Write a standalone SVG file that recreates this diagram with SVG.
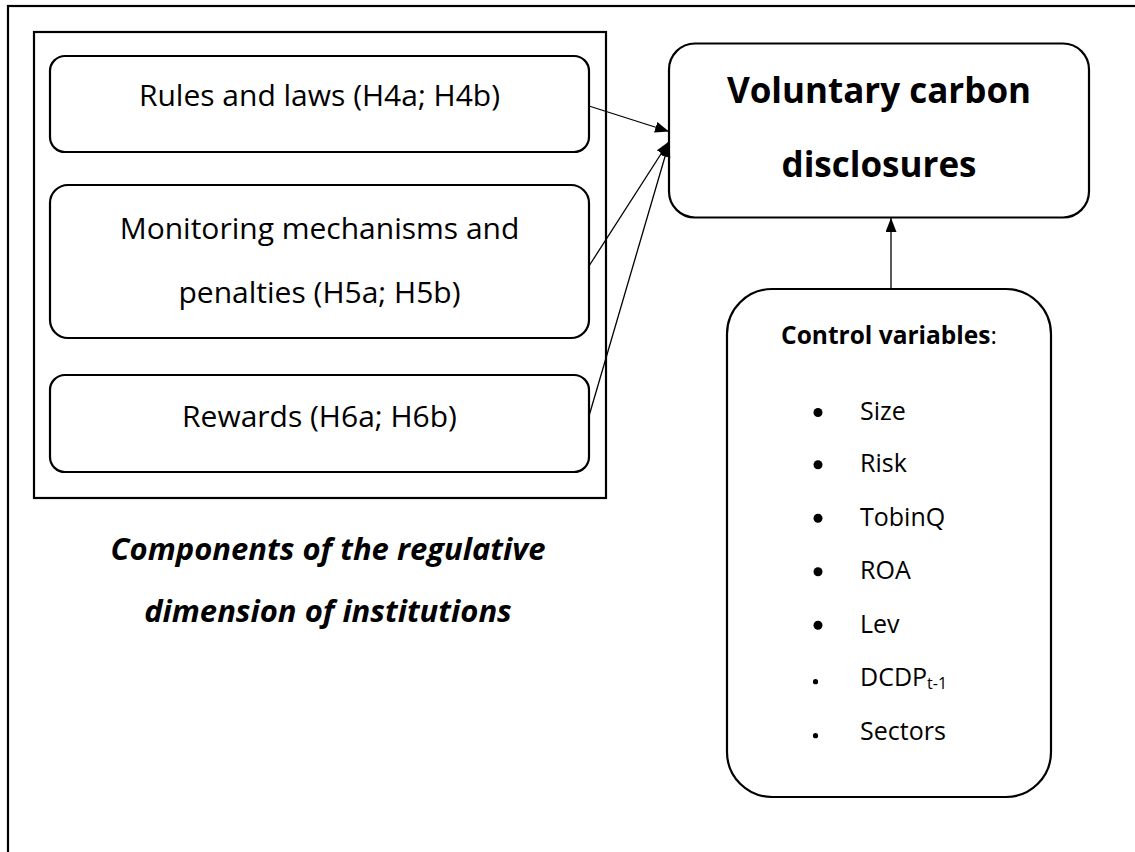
<svg xmlns="http://www.w3.org/2000/svg" width="1135" height="852" viewBox="0 0 1135 852">
<style>
.frame{fill:none;stroke:#000;stroke-width:2.2}
.box{fill:#fff;stroke:#000;stroke-width:2.2}
.t{font-family:"Open Sans","Noto Sans","DejaVu Sans",sans-serif;fill:#000}
.lbl{font-size:30px;text-anchor:middle}
.big{font-size:35px;font-weight:bold;text-anchor:middle}
.cap{font-size:31px;font-weight:bold;font-style:italic;text-anchor:middle}
.item{font-size:25px}
.conn{stroke:#000;stroke-width:1.3;fill:none;marker-end:url(#ah)}
</style>
<defs>
<marker id="ah" markerUnits="userSpaceOnUse" markerWidth="16" markerHeight="12" refX="14" refY="5.5" orient="auto">
<path d="M0,0 L14,5.5 L0,11 Z" fill="#000"/>
</marker>
</defs>
<rect width="1135" height="852" fill="#fff"/>
<rect class="frame" x="8" y="6" width="1140" height="860"/>
<g id="regulative-frame">
<rect class="frame" x="34" y="32" width="572" height="466"/>
</g>
<g id="rules">
<rect class="box" x="50" y="56" width="539" height="96" rx="15"/>
<text class="t lbl" x="319.5" y="106">Rules and laws (H4a; H4b)</text>
</g>
<g id="monitoring">
<rect class="box" x="50" y="185" width="539" height="153" rx="18"/>
<text class="t lbl" x="319.5" y="239">Monitoring mechanisms and</text>
<text class="t lbl" x="319.5" y="303">penalties (H5a; H5b)</text>
</g>
<g id="rewards">
<rect class="box" x="50" y="375" width="539" height="97" rx="15"/>
<text class="t lbl" x="319.5" y="427">Rewards (H6a; H6b)</text>
</g>
<g id="caption">
<text class="t cap" x="328" y="560">Components of the regulative</text>
<text class="t cap" x="328" y="622">dimension of institutions</text>
</g>
<g id="vcd">
<rect class="box" x="669" y="43.5" width="420" height="174" rx="26"/>
<text class="t big" x="879" y="103">Voluntary carbon</text>
<text class="t big" x="879" y="177">disclosures</text>
</g>
<g id="controls">
<rect class="box" x="727" y="289" width="324" height="508" rx="45"/>
<text class="t" x="889" y="344" text-anchor="middle" font-size="24.5"><tspan font-weight="bold">Control variables</tspan>:</text>
<circle cx="818" cy="412.5" r="4.5"/>
<text class="t item" x="860" y="420">Size</text>
<circle cx="818" cy="464.8" r="4.5"/>
<text class="t item" x="860" y="472.3">Risk</text>
<circle cx="818" cy="518.2" r="4.5"/>
<text class="t item" x="860" y="525.7">TobinQ</text>
<circle cx="818" cy="571.8" r="4.5"/>
<text class="t item" x="860" y="579.3">ROA</text>
<circle cx="818" cy="625.2" r="4.5"/>
<text class="t item" x="860" y="632.7">Lev</text>
<circle cx="815.5" cy="681.7" r="2.6"/>
<text class="t item" x="860" y="686">DCDP<tspan font-size="16" dy="3">t-1</tspan></text>
<circle cx="815.5" cy="735.7" r="2.6"/>
<text class="t item" x="860" y="740">Sectors</text>
</g>
<g id="connectors">
<line class="conn" x1="589" y1="106" x2="669" y2="131.5"/>
<line class="conn" x1="589" y1="266" x2="669" y2="141.5"/>
<line class="conn" x1="589" y1="416" x2="669" y2="143"/>
<line class="conn" x1="891" y1="289" x2="891" y2="218"/>
</g>
</svg>
